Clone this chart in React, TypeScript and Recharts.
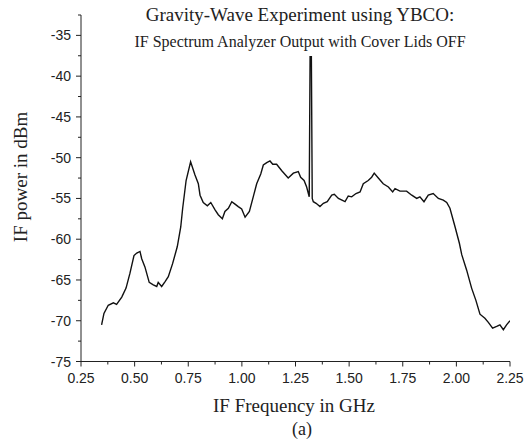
import React from "react";
import { LineChart, Line, XAxis, YAxis } from "recharts";

const freqGHz = [
  0.346, 0.357, 0.377, 0.401, 0.416, 0.44, 0.46, 0.478, 0.497, 0.51, 0.525, 0.533,
  0.548, 0.568, 0.587, 0.603, 0.61, 0.626, 0.642, 0.657, 0.677, 0.699, 0.715, 0.724,
  0.74, 0.761, 0.781, 0.797, 0.805, 0.82, 0.839, 0.855, 0.875, 0.89, 0.909, 0.921,
  0.937, 0.953, 0.968, 0.983, 0.999, 1.015, 1.035, 1.053, 1.069, 1.088, 1.1, 1.116,
  1.131, 1.144, 1.162, 1.186, 1.216, 1.24, 1.263, 1.274, 1.29, 1.302, 1.314, 1.318,
  1.324, 1.328, 1.333, 1.346, 1.364, 1.38, 1.398, 1.419, 1.431, 1.45, 1.481, 1.496,
  1.512, 1.532, 1.551, 1.566, 1.589, 1.605, 1.617, 1.636, 1.659, 1.683, 1.703, 1.714,
  1.737, 1.768, 1.792, 1.815, 1.83, 1.849, 1.869, 1.892, 1.916, 1.939, 1.955, 1.97,
  1.994, 2.014, 2.025, 2.048, 2.071, 2.091, 2.11, 2.133, 2.149, 2.169, 2.188, 2.203,
  2.219, 2.234, 2.25,
];

const powerDbm = [
  -70.5, -69.1, -68.1, -67.8, -68.0, -67.1, -66.0, -64.2, -62.0, -61.7, -61.5, -62.4,
  -63.4, -65.3, -65.6, -65.8, -65.3, -65.8, -65.2, -64.6, -63.0, -60.9, -58.5, -56.2,
  -52.8, -50.5, -52.1, -53.2, -54.6, -55.5, -55.9, -55.5, -56.4, -57.0, -57.5, -56.6,
  -56.2, -55.4, -55.7, -56.0, -56.3, -57.3, -56.6, -54.8, -53.2, -52.0, -50.9, -50.6,
  -50.4, -50.8, -50.8, -51.6, -52.5, -51.9, -51.7, -52.4, -52.8, -53.6, -54.8, -37.6,
  -37.6, -55.0, -55.4, -55.6, -56.0, -55.6, -55.4, -54.6, -54.5, -55.0, -55.4, -54.7,
  -54.8, -54.4, -54.2, -53.2, -52.8, -52.4, -51.9, -52.5, -53.2, -53.6, -54.2, -53.8,
  -54.1, -54.1, -54.6, -55.0, -54.8, -55.4, -54.6, -54.4, -55.0, -55.2, -55.5, -56.2,
  -58.5, -60.5, -61.9, -63.8, -66.0, -67.5, -69.2, -69.7, -70.2, -70.9, -70.7, -70.5,
  -71.1, -70.5, -70.0,
];

const xTicks = [
  0.25, 0.375, 0.5, 0.625, 0.75, 0.875, 1.0, 1.125, 1.25, 1.375, 1.5, 1.625,
  1.75, 1.875, 2.0, 2.125, 2.25,
];
const yTicks = [
  -75, -72.5, -70, -67.5, -65, -62.5, -60, -57.5, -55, -52.5, -50, -47.5, -45,
  -42.5, -40, -37.5, -35, -32.5,
];

const titleText = "Gravity-Wave Experiment using YBCO:";
const subtitleText = "IF Spectrum Analyzer Output with Cover Lids OFF";
const xLabelText = "IF Frequency in GHz";
const yLabelText = "IF power in dBm";
const panelText = "(a)";

const data = freqGHz.map((f, i) => ({ f, p: powerDbm[i] }));

const INK = "#222";
const SANS = "'Liberation Sans', Arial, sans-serif";
const SERIF = "'Liberation Serif', 'Times New Roman', serif";

const XTick = (props: any) => {
  const { x, y, payload } = props;
  const v = payload.value as number;
  const major = Math.abs(v * 4 - Math.round(v * 4)) < 1e-6;
  return (
    <g>
      <line x1={x} x2={x} y1={y} y2={y + (major ? 5 : 3)} stroke={INK} strokeWidth={1} />
      {major && (
        <text x={x} y={y + 21} textAnchor="middle" fontFamily={SANS} fontSize={14} fill={INK}>
          {v.toFixed(2)}
        </text>
      )}
    </g>
  );
};

const YTick = (props: any) => {
  const { x, y, payload } = props;
  const v = payload.value as number;
  const major = Math.abs(v / 5 - Math.round(v / 5)) < 1e-6;
  return (
    <g>
      <line x1={x - (major ? 5 : 3)} x2={x} y1={y} y2={y} stroke={INK} strokeWidth={1} />
      {major && (
        <text x={x - 10} y={y + 5} textAnchor="end" fontFamily={SANS} fontSize={14} fill={INK}>
          {String(v)}
        </text>
      )}
    </g>
  );
};

export default function App() {
  return (
    <div style={{ position: "absolute", left: 0, top: 0, width: 527, height: 445, background: "#fff" }}>
      <LineChart
        width={527}
        height={445}
        data={data}
        margin={{ top: 15, right: 17, left: 0, bottom: 53.5 }}
      >
        <XAxis
          type="number"
          dataKey="f"
          domain={[0.25, 2.25]}
          ticks={xTicks}
          allowDataOverflow
          interval={0}
          height={30}
          tickSize={0}
          tickMargin={0}
          tickLine={false}
          axisLine={{ stroke: INK, strokeWidth: 1 }}
          tick={<XTick />}
        />
        <YAxis
          type="number"
          dataKey="p"
          domain={[-75, -32.5]}
          ticks={yTicks}
          allowDataOverflow
          interval={0}
          width={81}
          tickSize={0}
          tickMargin={0}
          tickLine={false}
          axisLine={{ stroke: INK, strokeWidth: 1 }}
          tick={<YTick />}
        />
        <Line
          type="linear"
          dataKey="p"
          stroke="#111"
          strokeWidth={1.4}
          dot={false}
          isAnimationActive={false}
        />
      </LineChart>
      <svg
        width={527}
        height={445}
        style={{ position: "absolute", left: 0, top: 0, pointerEvents: "none" }}
      >
        <text x={300} y={21} textAnchor="middle" fontFamily={SERIF} fontSize={19} fill={INK}>
          {titleText}
        </text>
        <text x={300} y={47} textAnchor="middle" fontFamily={SERIF} fontSize={16} fill={INK}>
          {subtitleText}
        </text>
        <text x={294} y={412} textAnchor="middle" fontFamily={SERIF} fontSize={19} fill={INK}>
          {xLabelText}
        </text>
        <text x={302} y={435} textAnchor="middle" fontFamily={SERIF} fontSize={18} fill={INK}>
          {panelText}
        </text>
        <text
          x={0}
          y={0}
          transform="translate(27,177) rotate(-90)"
          textAnchor="middle"
          fontFamily={SERIF}
          fontSize={19}
          fill={INK}
        >
          {yLabelText}
        </text>
      </svg>
    </div>
  );
}
